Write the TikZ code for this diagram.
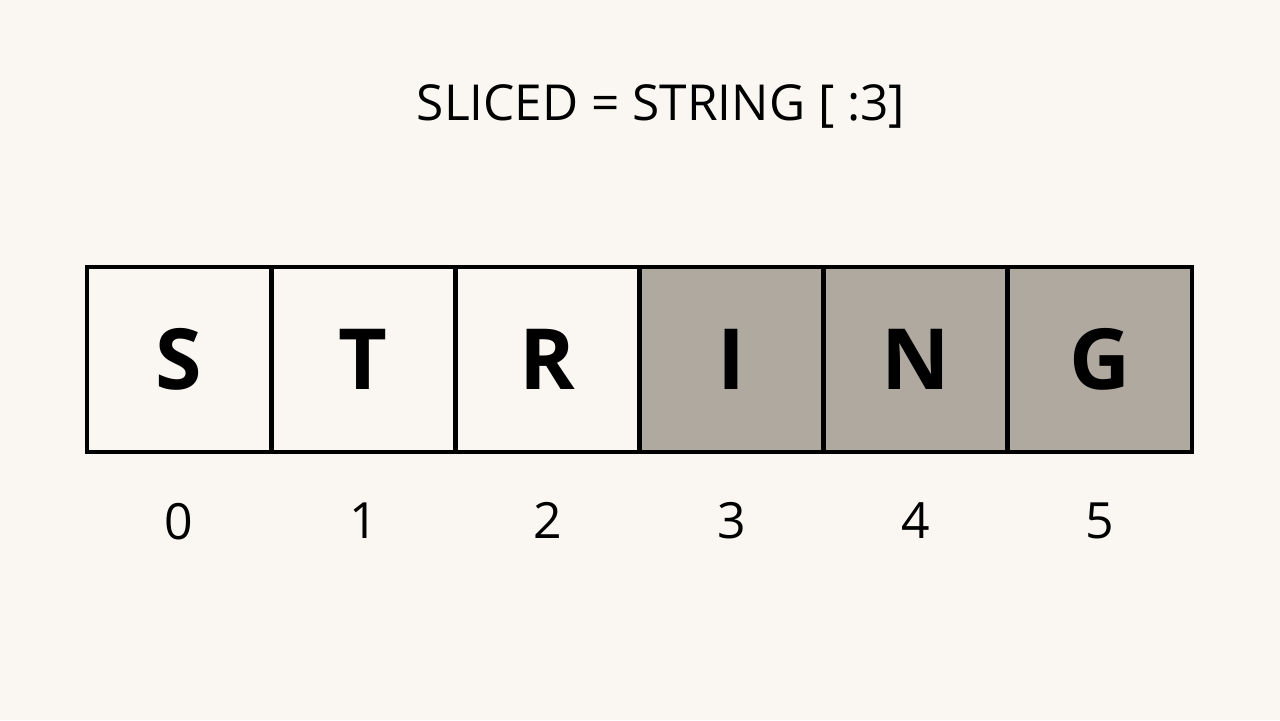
\documentclass[tikz,border=0pt]{standalone}
\usepackage{fontspec}
\setmainfont{Open Sans}
\usetikzlibrary{matrix}
\usetikzlibrary{positioning}

\definecolor{paper}{HTML}{FAF7F2}
\definecolor{slicegray}{HTML}{B0A9A0}

\begin{document}
\begin{tikzpicture}[x=0.01cm,y=-0.01cm,
    cell/.style={draw,line width=0.045cm,minimum width=1.84cm,minimum height=1.85cm,
      outer sep=0pt,inner sep=0pt,font=\fontsize{24}{29}\selectfont\bfseries},
    dropped/.style={fill=slicegray},
    index/.style={inner sep=0pt,font=\fontsize{14.2}{17}\selectfont}]

  \fill [paper] (0,0) rectangle (1280,720);

  \node [anchor=base,font=\fontsize{14.1}{17}\selectfont] (title) at (661,120) {SLICED = STRING [ :3]};

  \matrix (str) at (639.5,359.5) [matrix of nodes,column sep=-0.045cm,ampersand replacement=\&,nodes={cell}] {
    |(c_0)| S \& |(c_1)| T \& |(c_2)| R \& |[dropped](c_3)| I \& |[dropped](c_4)| N \& |[dropped](c_5)| G \\
  };

  \node [index,below=0.5cm of c_0] (i_0) {0};
  \node [index,below=0.5cm of c_1] (i_1) {1};
  \node [index,below=0.5cm of c_2] (i_2) {2};
  \node [index,below=0.5cm of c_3] (i_3) {3};
  \node [index,below=0.5cm of c_4] (i_4) {4};
  \node [index,below=0.5cm of c_5] (i_5) {5};

\end{tikzpicture}
\end{document}
